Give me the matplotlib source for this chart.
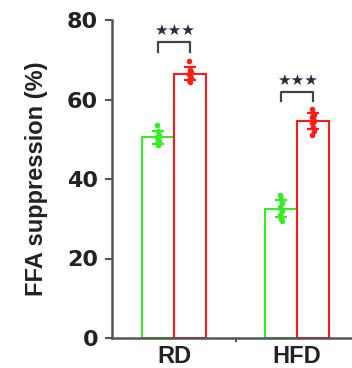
import numpy as np
import matplotlib
matplotlib.use("Agg")
import matplotlib.pyplot as plt

plt.rcParams['font.family'] = ['Liberation Sans', 'DejaVu Sans']

groups = ["RD", "HFD"]
ctrl_rd = [53.5, 52.0, 51.0, 50.5, 50.0, 49.5, 49.0, 48.5]
treat_rd = [69.7, 67.5, 67.0, 66.5, 66.0, 65.5, 65.0, 64.5]
ctrl_hfd = [36.0, 35.0, 34.0, 33.0, 32.5, 32.0, 31.0, 30.0, 29.5]
treat_hfd = [57.5, 56.5, 56.0, 55.5, 55.0, 54.5, 54.0, 53.0, 52.0, 51.0]
series = [[ctrl_rd, ctrl_hfd], [treat_rd, treat_hfd]]
colors = ["#33ee22", "#ff1a1a"]
yticks = [0, 20, 40, 60, 80]
sig_labels = ["★★★", "★★★"]
sig_heights = [74.5, 62.0]

fig = plt.figure(figsize=(3.52, 3.68), dpi=100)
ax = fig.add_axes([112/352, 30/368, 240/352, 318/368])

width = 0.26
centers = np.arange(len(groups))
for s, (data_pair, col) in enumerate(zip(series, colors)):
    for g, vals in enumerate(data_pair):
        x = centers[g] + (s - 0.5) * width
        v = np.array(vals)
        m = v.mean()
        sd = v.std(ddof=1)
        ax.bar(x, m, width=width, facecolor="white", edgecolor=col, linewidth=1.5, zorder=2)
        ax.errorbar(x, m, yerr=sd, color=col, capsize=4.5, elinewidth=1.6, capthick=1.6, zorder=3)
        offs = np.array([((i % 3) - 1) * 0.012 for i in range(len(v))])
        ax.scatter(x + offs, v, s=16, color=col, zorder=4, linewidths=0)

for g, (lab, h) in enumerate(zip(sig_labels, sig_heights)):
    x1 = centers[g] - width / 2
    x2 = centers[g] + width / 2
    ax.plot([x1, x1, x2, x2], [h - 2.5, h, h, h - 2.5], color="#444444", lw=1.6, zorder=5)
    ax.text(centers[g], h + 1.0, lab, ha="center", va="bottom", fontsize=11,
            family="DejaVu Sans", color="#2a2a40")

ax.set_ylim(0, 80)
ax.set_xlim(-0.504, 1.447)
ax.set_yticks(yticks)
ax.set_yticklabels([str(t) for t in yticks], fontsize=16, fontweight="bold",
                   color="#222222", family="DejaVu Sans")
ax.set_xticks(centers)
ax.set_xticklabels(groups, fontsize=17, fontweight="bold", color="#222222")
ax.set_xticks([0.5], minor=True)
ax.tick_params(axis="x", which="major", length=0, pad=5)
ax.tick_params(axis="x", which="minor", length=3, width=1.5, color="#555555", direction="out")
ax.tick_params(axis="y", length=5, width=1.5, color="#555555", pad=5)
ax.set_ylabel("FFA suppression (%)", fontsize=17, fontweight="bold", color="#222222", labelpad=14)

for sp in ["top", "right"]:
    ax.spines[sp].set_visible(False)
for sp in ["left", "bottom"]:
    ax.spines[sp].set_color("#555555")
    ax.spines[sp].set_linewidth(1.8)

fig.savefig("out.png", dpi=100)
